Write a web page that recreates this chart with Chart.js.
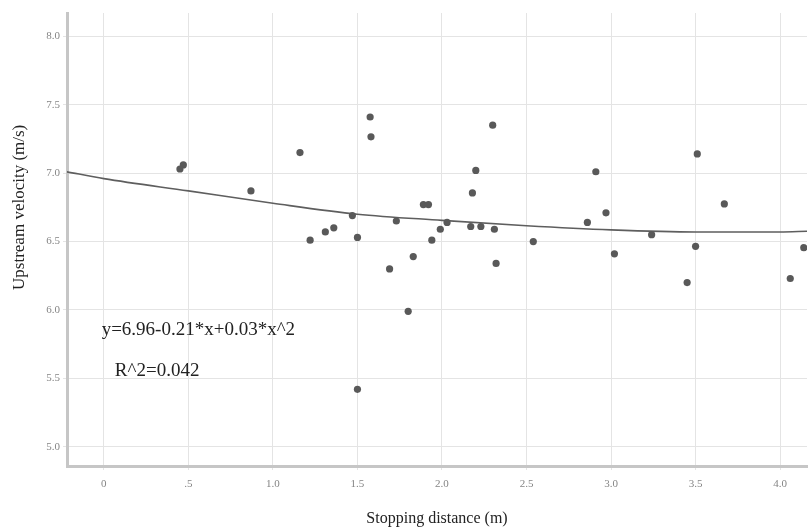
<!DOCTYPE html>
<html>
<head>
<meta charset="utf-8">
<script src="https://cdn.jsdelivr.net/npm/chart.js@4/dist/chart.umd.min.js"></script>
<style>
  html, body { margin: 0; padding: 0; background: #fff; }
  #wrap { width: 811px; height: 530px; }
</style>
</head>
<body>
<div id="wrap"><canvas id="scatterChart" width="811" height="530"></canvas></div>
<script>
// ===== DATA =====
const stopDistance = [
  0.47, 0.45, 0.87, 1.16, 1.22, 1.31, 1.36, 1.47, 1.50, 1.575, 1.58, 1.50,
  1.69, 1.73, 1.80, 1.83, 1.89, 1.92, 1.94, 1.99, 2.03, 2.30, 2.20, 2.18,
  2.17, 2.23, 2.31, 2.32, 2.54, 2.86, 2.91, 2.97, 3.02, 3.24, 3.45, 3.50,
  3.51, 3.67, 4.06, 4.14
];
const upstreamVelocity = [
  7.06, 7.03, 6.87, 7.15, 6.51, 6.57, 6.60, 6.69, 6.53, 7.41, 7.265, 5.42,
  6.30, 6.65, 5.99, 6.39, 6.77, 6.77, 6.51, 6.59, 6.64, 7.35, 7.02, 6.855,
  6.61, 6.61, 6.59, 6.34, 6.50, 6.64, 7.01, 6.71, 6.41, 6.55, 6.20, 6.465,
  7.14, 6.775, 6.23, 6.455
];

// fitted curve
const fitX = [-0.22, 0, 0.5, 1.0, 1.5, 2.0, 2.5, 3.0, 3.5, 4.0, 4.16];
const fitY = [7.01, 6.96, 6.87, 6.78, 6.70, 6.655, 6.615, 6.585, 6.57, 6.57, 6.575];

const xTicks = [0, 0.5, 1.0, 1.5, 2.0, 2.5, 3.0, 3.5, 4.0];
const xTickLabels = ["0", ".5", "1.0", "1.5", "2.0", "2.5", "3.0", "3.5", "4.0"];
const yTicks = [5.0, 5.5, 6.0, 6.5, 7.0, 7.5, 8.0];
const yTickLabels = ["5.0", "5.5", "6.0", "6.5", "7.0", "7.5", "8.0"];

const yTitle = "Upstream velocity (m/s)";
const equationText = "y=6.96-0.21*x+0.03*x^2";
const rSquaredText = "R^2=0.042";

// ===== annotation plugin: fit equation + y title =====
const fitLabels = {
  id: "fitLabels",
  afterDatasetsDraw(chart) {
    const { ctx, scales } = chart;
    ctx.save();
    ctx.fillStyle = "#222";
    ctx.font = "19px 'Liberation Serif', serif";
    ctx.textBaseline = "middle";
    ctx.textAlign = "left";
    ctx.fillText(equationText, scales.x.getPixelForValue(-0.013), scales.y.getPixelForValue(5.855));
    ctx.fillText(rSquaredText, scales.x.getPixelForValue(0.065), scales.y.getPixelForValue(5.555));

    // y axis title sits a bit above the middle in the original
    ctx.font = "17px 'Liberation Serif', serif";
    ctx.textAlign = "center";
    ctx.translate(20, scales.y.getPixelForValue(6.75));
    ctx.rotate(-Math.PI / 2);
    ctx.fillText(yTitle, 0, 0);
    ctx.restore();
  }
};

const ctx = document.getElementById("scatterChart").getContext("2d");

new Chart(ctx, {
  type: "scatter",
  data: {
    datasets: [
      {
        label: "Observed",
        data: stopDistance.map((x, i) => ({ x: x, y: upstreamVelocity[i] })),
        backgroundColor: "#595959",
        borderColor: "#595959",
        pointRadius: 3.6,
        pointBorderWidth: 0
      },
      {
        label: "Quadratic",
        type: "line",
        data: fitX.map((x, i) => ({ x: x, y: fitY[i] })),
        borderColor: "#5e5e5e",
        borderWidth: 1.6,
        pointRadius: 0,
        fill: false,
        cubicInterpolationMode: "monotone"
      }
    ]
  },
  options: {
    responsive: false,
    animation: false,
    layout: { padding: { top: 13, right: 0, left: 0, bottom: 0 } },
    plugins: {
      legend: { display: false },
      tooltip: { enabled: false }
    },
    scales: {
      x: {
        type: "linear",
        min: -0.218,
        max: 4.159,
        afterBuildTicks: scale => { scale.ticks = xTicks.map(v => ({ value: v })); },
        afterFit: scale => { scale.height = 64; },
        grid: { color: "#e4e4e4", lineWidth: 1, tickLength: 4, tickColor: "#e4e4e4" },
        border: { color: "#c6c6c6", width: 3 },
        ticks: {
          color: "#858585",
          padding: 8,
          font: { family: "'Liberation Serif', serif", size: 11 },
          callback: value => xTickLabels[xTicks.indexOf(value)]
        },
        title: {
          display: true,
          text: "Stopping distance (m)",
          color: "#222",
          padding: { top: 0, bottom: 2 },
          font: { family: "'Liberation Serif', serif", size: 16 }
        }
      },
      y: {
        type: "linear",
        min: 4.86,
        max: 8.17,
        afterBuildTicks: scale => { scale.ticks = yTicks.map(v => ({ value: v })); },
        afterFit: scale => { scale.width = 67; },
        grid: { color: "#e4e4e4", lineWidth: 1, tickLength: 4, tickColor: "#e4e4e4" },
        border: { color: "#c6c6c6", width: 3 },
        ticks: {
          color: "#858585",
          padding: 3,
          font: { family: "'Liberation Serif', serif", size: 11 },
          callback: value => yTickLabels[yTicks.indexOf(value)]
        },
        title: { display: false }
      }
    }
  },
  plugins: [fitLabels]
});
</script>
</body>
</html>
